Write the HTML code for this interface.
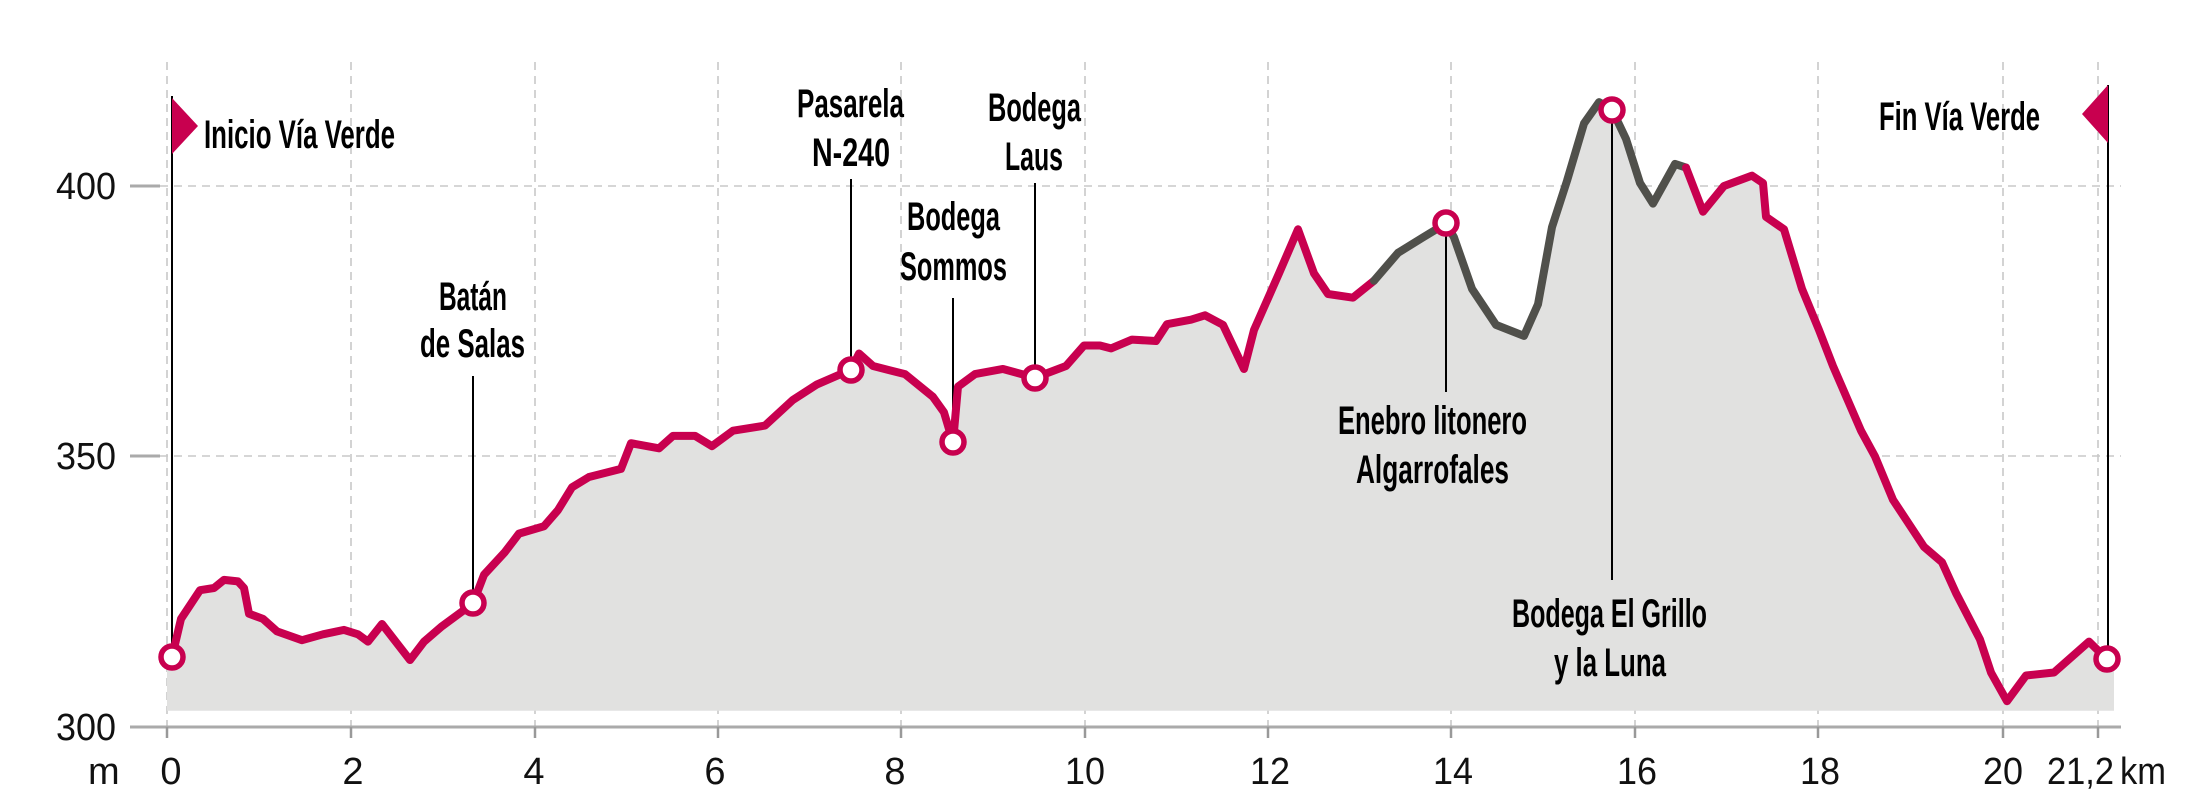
<!DOCTYPE html>
<html><head><meta charset="utf-8"><style>html,body{margin:0;padding:0;background:#fff;overflow:hidden}svg{display:block}</style></head>
<body>
<svg width="2200" height="808" viewBox="0 0 2200 808" xmlns="http://www.w3.org/2000/svg">
<g stroke="#c8c8c8" stroke-width="1.6" stroke-dasharray="8,6" fill="none">
<line x1="167" y1="62" x2="167" y2="727"/><line x1="351" y1="62" x2="351" y2="727"/>
<line x1="535" y1="62" x2="535" y2="727"/><line x1="718" y1="62" x2="718" y2="727"/>
<line x1="901" y1="62" x2="901" y2="727"/><line x1="1085" y1="62" x2="1085" y2="727"/>
<line x1="1268" y1="62" x2="1268" y2="727"/><line x1="1451" y1="62" x2="1451" y2="727"/>
<line x1="1635" y1="62" x2="1635" y2="727"/><line x1="1818" y1="62" x2="1818" y2="727"/>
<line x1="2003" y1="62" x2="2003" y2="727"/><line x1="2098" y1="62" x2="2098" y2="727"/>
<line x1="160" y1="186" x2="2121" y2="186"/><line x1="160" y1="456" x2="2121" y2="456"/>
</g>
<g transform="scale(1,0.735)">
<path fill="#e1e1e0" d="M167,967 L167,894 L172,894 L181,842 L200,803 L214,800 L224,789 L238,791 L244,800 L249,835 L263,842 L277,859 L302,871 L323,863 L344,857 L358,863 L368,873 L382,849 L410,898 L424,873 L442,852 L473,821 L484,782 L505,751 L519,726 L544,716 L558,694 L572,663 L589,649 L621,638 L631,603 L659,610 L673,593 L695,593 L712,607 L733,586 L765,579 L793,544 L817,523 L851,503 L859,481 L873,498 L905,509 L933,540 L944,561 L953,602 L958,526 L975,509 L1003,502 L1035,514 L1066,498 L1084,470 L1100,470 L1111,474 L1132,462 L1156,464 L1167,441 L1191,435 L1205,429 L1223,442 L1244,502 L1254,449 L1279,372 L1298,312 L1314,372 L1328,400 L1353,405 L1374,382 L1398,344 L1423,323 L1446,304 L1454,323 L1472,393 L1496,442 L1524,457 L1538,414 L1552,309 L1567,246 L1584,168 L1599,139 L1612,149 L1626,189 L1640,249 L1653,277 L1675,223 L1686,228 L1703,288 L1724,253 L1752,239 L1763,249 L1766,295 L1784,312 L1802,393 L1819,449 L1833,498 L1861,586 L1875,621 L1893,680 L1924,744 L1942,765 L1956,807 L1980,870 L1991,915 L2007,954 L2026,919 L2054,915 L2089,873 L2107,897 L2114,897 L2114,967 Z"/>
</g>
<g stroke="#aaa" stroke-width="3">
<line x1="130" y1="727" x2="2121" y2="727"/>
<line x1="130" y1="186" x2="160" y2="186"/><line x1="130" y1="456" x2="160" y2="456"/>
</g>
<g stroke="#999" stroke-width="2.5">
<line x1="167" y1="727" x2="167" y2="738"/><line x1="351" y1="727" x2="351" y2="738"/><line x1="535" y1="727" x2="535" y2="738"/><line x1="718" y1="727" x2="718" y2="738"/><line x1="901" y1="727" x2="901" y2="738"/><line x1="1085" y1="727" x2="1085" y2="738"/><line x1="1268" y1="727" x2="1268" y2="738"/><line x1="1451" y1="727" x2="1451" y2="738"/><line x1="1635" y1="727" x2="1635" y2="738"/><line x1="1818" y1="727" x2="1818" y2="738"/><line x1="2003" y1="727" x2="2003" y2="738"/><line x1="2098" y1="727" x2="2098" y2="738"/>
</g>
<g stroke="#000" stroke-width="2">
<line x1="172" y1="96" x2="172" y2="657"/><line x1="2108" y1="85" x2="2108" y2="659"/>
<line x1="473" y1="376" x2="473" y2="603"/><line x1="851" y1="179" x2="851" y2="370"/>
<line x1="953" y1="298" x2="953" y2="442"/><line x1="1035" y1="183" x2="1035" y2="378"/>
<line x1="1446" y1="223" x2="1446" y2="392"/><line x1="1612" y1="110" x2="1612" y2="580"/>
</g>
<polygon points="172,98 198,126 172,154" fill="#c8004f"/>
<polygon points="2108,85 2082,114 2108,143" fill="#c8004f"/>
<g fill="none" stroke-width="8" stroke-linejoin="round" stroke-linecap="round" transform="scale(1,0.735)">
<path vector-effect="non-scaling-stroke" stroke="#c8004f" d="M172,894 L181,842 L200,803 L214,800 L224,789 L238,791 L244,800 L249,835 L263,842 L277,859 L302,871 L323,863 L344,857 L358,863 L368,873 L382,849 L410,898 L424,873 L442,852 L473,821 L484,782 L505,751 L519,726 L544,716 L558,694 L572,663 L589,649 L621,638 L631,603 L659,610 L673,593 L695,593 L712,607 L733,586 L765,579 L793,544 L817,523 L851,503 L859,481 L873,498 L905,509 L933,540 L944,561 L953,602 L958,526 L975,509 L1003,502 L1035,514 L1066,498 L1084,470 L1100,470 L1111,474 L1132,462 L1156,464 L1167,441 L1191,435 L1205,429 L1223,442 L1244,502 L1254,449 L1279,372 L1298,312 L1314,372 L1328,400 L1353,405 L1374,382"/>
<path vector-effect="non-scaling-stroke" stroke="#50504b" d="M1374,382 L1398,344 L1423,323 L1446,304 L1454,323 L1472,393 L1496,442 L1524,457 L1538,414 L1552,309 L1567,246 L1584,168 L1599,139 L1612,149 L1626,189 L1640,249 L1653,277 L1675,223 L1686,228"/>
<path vector-effect="non-scaling-stroke" stroke="#c8004f" d="M1686,228 L1703,288 L1724,253 L1752,239 L1763,249 L1766,295 L1784,312 L1802,393 L1819,449 L1833,498 L1861,586 L1875,621 L1893,680 L1924,744 L1942,765 L1956,807 L1980,870 L1991,915 L2007,954 L2026,919 L2054,915 L2089,873 L2107,897"/>
</g>
<g fill="#fff" stroke="#c8004f" stroke-width="5.5">
<circle cx="172" cy="657" r="11"/><circle cx="473" cy="603" r="11"/><circle cx="851" cy="370" r="11"/><circle cx="953" cy="442" r="11"/><circle cx="1035" cy="378" r="11"/><circle cx="1446" cy="223" r="11"/><circle cx="1612" cy="110" r="11"/><circle cx="2107" cy="659" r="11"/>
</g>
<g font-family="Liberation Sans, sans-serif" font-weight="bold" font-size="40" fill="#000">
<text x="204" y="148" textLength="191" lengthAdjust="spacingAndGlyphs">Inicio Vía Verde</text>
<text x="1879" y="130" textLength="161" lengthAdjust="spacingAndGlyphs">Fin Vía Verde</text>
<text x="439" y="310" textLength="68" lengthAdjust="spacingAndGlyphs">Batán</text>
<text x="420" y="357" textLength="105" lengthAdjust="spacingAndGlyphs">de Salas</text>
<text x="797" y="117" textLength="107" lengthAdjust="spacingAndGlyphs">Pasarela</text>
<text x="812" y="166" textLength="78" lengthAdjust="spacingAndGlyphs">N-240</text>
<text x="907" y="230" textLength="93" lengthAdjust="spacingAndGlyphs">Bodega</text>
<text x="900" y="280" textLength="107" lengthAdjust="spacingAndGlyphs">Sommos</text>
<text x="988" y="121" textLength="93" lengthAdjust="spacingAndGlyphs">Bodega</text>
<text x="1005" y="170" textLength="58" lengthAdjust="spacingAndGlyphs">Laus</text>
<text x="1338" y="434" textLength="189" lengthAdjust="spacingAndGlyphs">Enebro litonero</text>
<text x="1356" y="483" textLength="153" lengthAdjust="spacingAndGlyphs">Algarrofales</text>
<text x="1512" y="627" textLength="195" lengthAdjust="spacingAndGlyphs">Bodega El Grillo</text>
<text x="1554" y="676" textLength="112" lengthAdjust="spacingAndGlyphs">y la Luna</text>
</g>
<g font-family="Liberation Sans, sans-serif" font-size="38" fill="#111">
<text x="116" y="199" text-anchor="end" textLength="60" lengthAdjust="spacingAndGlyphs">400</text>
<text x="116" y="469" text-anchor="end" textLength="60" lengthAdjust="spacingAndGlyphs">350</text>
<text x="116" y="740" text-anchor="end" textLength="60" lengthAdjust="spacingAndGlyphs">300</text>
<text x="88" y="784">m</text>
<g text-anchor="middle">
<text x="171" y="784">0</text><text x="353" y="784">2</text><text x="534" y="784">4</text><text x="715" y="784">6</text><text x="895" y="784">8</text>
<text x="1085" y="784" textLength="40" lengthAdjust="spacingAndGlyphs">10</text>
<text x="1270" y="784" textLength="40" lengthAdjust="spacingAndGlyphs">12</text>
<text x="1453" y="784" textLength="40" lengthAdjust="spacingAndGlyphs">14</text>
<text x="1637" y="784" textLength="40" lengthAdjust="spacingAndGlyphs">16</text>
<text x="1820" y="784" textLength="40" lengthAdjust="spacingAndGlyphs">18</text>
<text x="2003" y="784" textLength="40" lengthAdjust="spacingAndGlyphs">20</text>
</g>
<text x="2047" y="784" textLength="67" lengthAdjust="spacingAndGlyphs">21,2</text>
<text x="2120" y="784" textLength="46" lengthAdjust="spacingAndGlyphs">km</text>
</g>
</svg>
</body></html>
